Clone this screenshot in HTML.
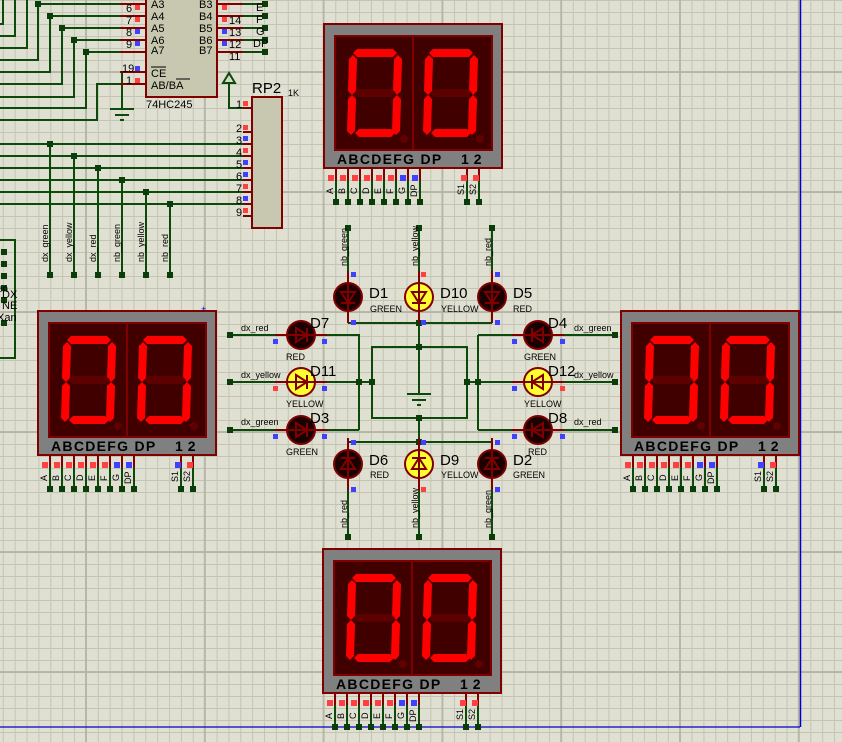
<!DOCTYPE html>
<html><head><meta charset="utf-8"><style>
html,body{margin:0;padding:0;}
body{width:842px;height:742px;overflow:hidden;background-color:#e0e0d2;
background-image:
linear-gradient(to right, rgba(180,180,165,0.9) 2px, transparent 2px),
linear-gradient(to bottom, rgba(180,180,165,0.9) 2px, transparent 2px),
linear-gradient(to right, #c4c4b4 1px, transparent 1px),
linear-gradient(to bottom, #c4c4b4 1px, transparent 1px);
background-size:118.8px 120px,118.8px 120px,11.88px 12px,11.88px 12px;
background-position:85px 0,0 71px,2.8px 0,0 0;}
svg{position:absolute;left:0;top:0;}
text{font-family:"Liberation Sans",sans-serif;}
.w{stroke:#0b4a0b;stroke-width:2;fill:none}
.r{stroke:#800000;stroke-width:2;fill:none}
.dot{fill:#0b3d0b}
.s{font-size:9px;fill:#000}
.m{font-size:11px;fill:#000}
.big{font-size:15px;fill:#000}
.lab{font-family:"Liberation Mono",monospace;font-weight:bold;font-size:14px;fill:#000;letter-spacing:1.3px}
</style></head><body>
<svg width="842" height="742" viewBox="0 0 842 742">
<defs>
<g id="dig">
<polygon fill="#ff0000" points="33,25 69,25 73,29 69,33 33,33 29,29"/>
<polygon fill="#ff0000" points="29,31 33,35 32,67 28,71 24,67 25,35"/>
<polygon fill="#ff0000" points="74,31 78,35 77,67 73,71 69,67 70,35"/>
<polygon fill="#5c0000" points="30,69 34,65 68,65 72,69 68,73 34,73"/>
<polygon fill="#ff0000" points="28,71 32,75 31,107 27,111 23,107 24,75"/>
<polygon fill="#ff0000" points="73,71 77,75 76,107 72,111 68,107 69,75"/>
<polygon fill="#ff0000" points="31,109 35,105 67,105 71,109 67,113 35,113"/>
<circle cx="80" cy="115" r="4" fill="#600000"/>
</g>
<g id="disp">
<rect x="0" y="0" width="178" height="144" fill="#808080" stroke="#800000" stroke-width="2"/>
<rect x="11" y="12" width="157" height="114" fill="#400000" stroke="#800000" stroke-width="2"/>
<line x1="89" y1="12" x2="89" y2="126" stroke="#800000" stroke-width="2"/>
<use href="#dig"/>
<use href="#dig" x="76"/>
<g class="r">
<path d="M12 144v12M24 144v12M36 144v12M48 144v12M60 144v12M72 144v12M84 144v12M96 144v12M143 144v12M155 144v12"/>
</g>
<g class="w">
<path d="M12 156v22M24 156v22M36 156v22M48 156v22M60 156v22M72 156v22M84 156v22M96 156v22M143 156v22M155 156v22"/>
</g>
<g class="dot">
<rect x="9" y="175" width="6" height="6"/><rect x="21" y="175" width="6" height="6"/><rect x="33" y="175" width="6" height="6"/><rect x="45" y="175" width="6" height="6"/><rect x="57" y="175" width="6" height="6"/><rect x="69" y="175" width="6" height="6"/><rect x="81" y="175" width="6" height="6"/><rect x="93" y="175" width="6" height="6"/><rect x="140" y="175" width="6" height="6"/><rect x="152" y="175" width="6" height="6"/>
</g>
<g fill="#ff4040">
<rect x="4" y="151" width="6" height="6"/><rect x="16" y="151" width="6" height="6"/><rect x="28" y="151" width="6" height="6"/><rect x="40" y="151" width="6" height="6"/><rect x="52" y="151" width="6" height="6"/><rect x="64" y="151" width="6" height="6"/>
</g>
<g fill="#4040ff"><rect x="76" y="151" width="6" height="6"/><rect x="88" y="151" width="6" height="6"/></g>
</g>
<g id="led">
<line x1="0" y1="-26" x2="0" y2="26" stroke="#800000" stroke-width="2"/>
<polygon points="-7,-5 7,-5 0,6" fill="none" stroke="#800000" stroke-width="2"/>
<line x1="-7" y1="6" x2="7" y2="6" stroke="#800000" stroke-width="2"/>
</g>
</defs>

<line x1="800.5" y1="0" x2="800.5" y2="727" stroke="#0000cc" stroke-width="1.5"/>
<line x1="0" y1="727" x2="800" y2="727" stroke="#0000cc" stroke-width="1.2"/>

<g class="w">
<path d="M0 24H3V0M0 36H15V0M0 48H27V0M0 60H38V4H120M0 72H50V16H120M0 84H62V28H120M0 97H74V40H120M0 108H86V52H120"/>
<path d="M0 120H97V84H120M120 72H122V108"/>
<path d="M0 144H243M0 156H243M0 168H243M0 180H243M0 192H243M0 204H243"/>
<path d="M50 144V275M74 156V275M98 168V275M122 180V275M146 192V275M170 204V275"/>
<path d="M243 4H265M243 16H265M243 28H265M243 40H265M243 52H265"/>
<path d="M229 83V108H243"/>
<path d="M0 240H15V358H0"/>
</g>
<g class="dot">
<rect x="35" y="1" width="6" height="6"/><rect x="47" y="13" width="6" height="6"/><rect x="59" y="25" width="6" height="6"/><rect x="71" y="37" width="6" height="6"/><rect x="83" y="49" width="6" height="6"/>
<rect x="47" y="141" width="6" height="6"/><rect x="71" y="153" width="6" height="6"/><rect x="95" y="165" width="6" height="6"/><rect x="119" y="177" width="6" height="6"/><rect x="143" y="189" width="6" height="6"/><rect x="167" y="201" width="6" height="6"/>
<rect x="47" y="272" width="6" height="6"/><rect x="71" y="272" width="6" height="6"/><rect x="95" y="272" width="6" height="6"/><rect x="119" y="272" width="6" height="6"/><rect x="143" y="272" width="6" height="6"/><rect x="167" y="272" width="6" height="6"/>
<rect x="262" y="1" width="6" height="6"/><rect x="262" y="13" width="6" height="6"/><rect x="262" y="25" width="6" height="6"/><rect x="262" y="37" width="6" height="6"/><rect x="262" y="49" width="6" height="6"/>
<rect x="1" y="249" width="6" height="6"/><rect x="1" y="261" width="6" height="6"/><rect x="1" y="273" width="6" height="6"/><rect x="1" y="285" width="6" height="6"/><rect x="1" y="297" width="6" height="6"/><rect x="1" y="320" width="6" height="6"/>
</g>
<text x="-3" y="292" font-size="10">en</text>
<text x="2" y="298" font-size="11">DX</text>
<text x="2" y="309" font-size="11">NE</text>
<text x="-3" y="321" font-size="11">Xan</text>
<g class="s">
<text transform="translate(48,262) rotate(-90)">dx_green</text>
<text transform="translate(72,262) rotate(-90)">dx_yellow</text>
<text transform="translate(96,262) rotate(-90)">dx_red</text>
<text transform="translate(120,262) rotate(-90)">nb_green</text>
<text transform="translate(144,262) rotate(-90)">nb_yellow</text>
<text transform="translate(168,262) rotate(-90)">nb_red</text>
</g>

<rect x="146" y="-4" width="71" height="101" fill="#c8c8b0" stroke="#800000" stroke-width="2"/>
<g class="r"><path d="M120 4H146M120 16H146M120 28H146M120 40H146M120 52H146M120 72H146M120 84H146M217 4H243M217 16H243M217 28H243M217 40H243M217 52H243"/></g>
<g class="m">
<text x="151" y="8">A3</text><text x="151" y="20">A4</text><text x="151" y="32">A5</text><text x="151" y="44">A6</text><text x="151" y="54">A7</text>
<text x="151" y="77">CE</text><text x="151" y="89">AB/BA</text>
<text x="199" y="8">B3</text><text x="199" y="20">B4</text><text x="199" y="32">B5</text><text x="199" y="44">B6</text><text x="199" y="54">B7</text>
<text x="126" y="12">6</text><text x="126" y="24">7</text><text x="126" y="36">8</text><text x="126" y="48">9</text><text x="122" y="72">19</text><text x="126" y="84">1</text>
<text x="229" y="24">14</text><text x="229" y="36">13</text><text x="229" y="48">12</text><text x="229" y="60">11</text>
<text x="256" y="11">E</text><text x="256" y="23">F</text><text x="256" y="35">G</text><text x="253" y="47">DP</text>
<text x="146" y="108">74HC245</text>
</g>
<line x1="151" y1="67" x2="166" y2="67" stroke="#000" stroke-width="1"/>
<line x1="176" y1="79" x2="190" y2="79" stroke="#000" stroke-width="1"/>
<g fill="#ff4040"><rect x="135" y="5" width="5" height="5"/><rect x="135" y="17" width="5" height="5"/><rect x="135" y="78" width="5" height="5"/><rect x="222" y="17" width="5" height="5"/><rect x="222" y="5" width="5" height="5"/></g>
<g fill="#4040ff"><rect x="135" y="29" width="5" height="5"/><rect x="135" y="41" width="5" height="5"/><rect x="135" y="66" width="5" height="5"/><rect x="222" y="29" width="5" height="5"/><rect x="222" y="41" width="5" height="5"/></g>
<g stroke="#0b4a0b" stroke-width="2"><path d="M110 109H134M115 115H129M120 120H124"/></g>
<polygon points="229,73 223,83 235,83" fill="none" stroke="#0b4a0b" stroke-width="2"/>

<rect x="252" y="97" width="30" height="131" fill="#c8c8b0" stroke="#800000" stroke-width="2"/>
<g class="r"><path d="M243 108H252M243 132H252M243 144H252M243 156H252M243 168H252M243 180H252M243 192H252M243 204H252M243 216H252"/></g>
<text x="252" y="93" class="big" font-size="16">RP2</text>
<text x="288" y="96" class="s">1K</text>
<g class="m">
<text x="236" y="108">1</text><text x="236" y="132">2</text><text x="236" y="144">3</text><text x="236" y="156">4</text><text x="236" y="168">5</text><text x="236" y="180">6</text><text x="236" y="192">7</text><text x="236" y="204">8</text><text x="236" y="216">9</text>
</g>
<g fill="#ff4040"><rect x="243" y="101" width="5" height="5"/><rect x="243" y="125" width="5" height="5"/><rect x="243" y="148" width="5" height="5"/><rect x="243" y="184" width="5" height="5"/><rect x="243" y="208" width="5" height="5"/></g>
<g fill="#4040ff"><rect x="243" y="136" width="5" height="5"/><rect x="243" y="160" width="5" height="5"/><rect x="243" y="172" width="5" height="5"/><rect x="243" y="196" width="5" height="5"/></g>

<use href="#disp" x="324" y="24"/>
<use href="#disp" x="38" y="311"/>
<use href="#disp" x="621" y="311"/>
<use href="#disp" x="323" y="549"/>
<g class="lab">
<text x="337" y="164">ABCDEFG DP</text><text x="461" y="164" letter-spacing="5">12</text>
<text x="51" y="451">ABCDEFG DP</text><text x="175" y="451" letter-spacing="5">12</text>
<text x="634" y="451">ABCDEFG DP</text><text x="758" y="451" letter-spacing="5">12</text>
<text x="336" y="689">ABCDEFG DP</text><text x="460" y="689" letter-spacing="5">12</text>
</g>
<g fill="#ff4040"><rect x="461" y="175" width="6" height="6"/><rect x="473" y="175" width="6" height="6"/>
<rect x="187" y="462" width="6" height="6"/><rect x="770" y="462" width="6" height="6"/>
<rect x="460" y="700" width="6" height="6"/><rect x="472" y="700" width="6" height="6"/></g>
<g fill="#4040ff"><rect x="175" y="462" width="6" height="6"/><rect x="758" y="462" width="6" height="6"/></g>
<g class="s" font-size="10">
<text transform="translate(333,194) rotate(-90)">A</text><text transform="translate(345,194) rotate(-90)">B</text><text transform="translate(357,194) rotate(-90)">C</text><text transform="translate(369,194) rotate(-90)">D</text><text transform="translate(381,194) rotate(-90)">E</text><text transform="translate(393,194) rotate(-90)">F</text><text transform="translate(405,194) rotate(-90)">G</text><text transform="translate(417,197) rotate(-90)">DP</text><text transform="translate(464,195) rotate(-90)">S1</text><text transform="translate(476,195) rotate(-90)">S2</text>
<text transform="translate(47,481) rotate(-90)">A</text><text transform="translate(59,481) rotate(-90)">B</text><text transform="translate(71,481) rotate(-90)">C</text><text transform="translate(83,481) rotate(-90)">D</text><text transform="translate(95,481) rotate(-90)">E</text><text transform="translate(107,481) rotate(-90)">F</text><text transform="translate(119,481) rotate(-90)">G</text><text transform="translate(131,484) rotate(-90)">DP</text><text transform="translate(178,482) rotate(-90)">S1</text><text transform="translate(190,482) rotate(-90)">S2</text>
<text transform="translate(630,481) rotate(-90)">A</text><text transform="translate(642,481) rotate(-90)">B</text><text transform="translate(654,481) rotate(-90)">C</text><text transform="translate(666,481) rotate(-90)">D</text><text transform="translate(678,481) rotate(-90)">E</text><text transform="translate(690,481) rotate(-90)">F</text><text transform="translate(702,481) rotate(-90)">G</text><text transform="translate(714,484) rotate(-90)">DP</text><text transform="translate(761,482) rotate(-90)">S1</text><text transform="translate(773,482) rotate(-90)">S2</text>
<text transform="translate(332,719) rotate(-90)">A</text><text transform="translate(344,719) rotate(-90)">B</text><text transform="translate(356,719) rotate(-90)">C</text><text transform="translate(368,719) rotate(-90)">D</text><text transform="translate(380,719) rotate(-90)">E</text><text transform="translate(392,719) rotate(-90)">F</text><text transform="translate(404,719) rotate(-90)">G</text><text transform="translate(416,722) rotate(-90)">DP</text><text transform="translate(463,720) rotate(-90)">S1</text><text transform="translate(475,720) rotate(-90)">S2</text>
</g>

<g class="w">
<path d="M348 228V275M419 228V275M492 228V275"/>
<path d="M348 323H492M419 323V394"/>
<rect x="372" y="347" width="95" height="71"/>
<path d="M419 418V442M348 442H492M348 489V537M419 489V537M492 489V537"/>
<path d="M230 335H275M327 335H359V430M230 382H275M327 382H372M230 430H275M327 430H359"/>
<path d="M478 335V430M467 382H512M478 335H512M478 430H512M564 335H615M564 382H615M564 430H615"/>
</g>
<g stroke="#0b4a0b" stroke-width="2"><path d="M407 394H431M412 400H426M417 405H421"/></g>
<g class="dot">
<rect x="345" y="225" width="6" height="6"/><rect x="416" y="225" width="6" height="6"/><rect x="489" y="225" width="6" height="6"/>
<rect x="416" y="320" width="6" height="6"/><rect x="416" y="344" width="6" height="6"/><rect x="416" y="415" width="6" height="6"/><rect x="416" y="439" width="6" height="6"/>
<rect x="356" y="379" width="6" height="6"/><rect x="369" y="379" width="6" height="6"/><rect x="464" y="379" width="6" height="6"/><rect x="475" y="379" width="6" height="6"/>
<rect x="227" y="332" width="6" height="6"/><rect x="227" y="379" width="6" height="6"/><rect x="227" y="427" width="6" height="6"/>
<rect x="612" y="332" width="6" height="6"/><rect x="612" y="379" width="6" height="6"/><rect x="612" y="427" width="6" height="6"/>
<rect x="345" y="534" width="6" height="6"/><rect x="416" y="534" width="6" height="6"/><rect x="489" y="534" width="6" height="6"/>
</g>
<g class="s">
<text transform="translate(347,266) rotate(-90)">nb_green</text>
<text transform="translate(418,266) rotate(-90)">nb_yellow</text>
<text transform="translate(491,266) rotate(-90)">nb_red</text>
<text transform="translate(347,528) rotate(-90)">nb_red</text>
<text transform="translate(418,528) rotate(-90)">nb_yellow</text>
<text transform="translate(491,528) rotate(-90)">nb_green</text>
<text x="241" y="331">dx_red</text><text x="241" y="378">dx_yellow</text><text x="241" y="425">dx_green</text>
<text x="574" y="331">dx_green</text><text x="574" y="378">dx_yellow</text><text x="574" y="425">dx_red</text>
</g>

<g stroke="#800000" stroke-width="2">
<circle cx="348" cy="297" r="14" fill="#1a0000"/><circle cx="419" cy="297" r="14" fill="#ffff30"/><circle cx="492" cy="297" r="14" fill="#1a0000"/>
<circle cx="301" cy="335" r="14" fill="#1a0000"/><circle cx="301" cy="382" r="14" fill="#ffff30"/><circle cx="301" cy="430" r="14" fill="#1a0000"/>
<circle cx="538" cy="335" r="14" fill="#1a0000"/><circle cx="538" cy="382" r="14" fill="#ffff30"/><circle cx="538" cy="430" r="14" fill="#1a0000"/>
<circle cx="348" cy="464" r="14" fill="#1a0000"/><circle cx="419" cy="464" r="14" fill="#ffff30"/><circle cx="492" cy="464" r="14" fill="#1a0000"/>
</g>
<use href="#led" transform="translate(348,297)"/><use href="#led" transform="translate(419,297)"/><use href="#led" transform="translate(492,297)"/>
<use href="#led" transform="translate(301,335) rotate(-90)"/><use href="#led" transform="translate(301,382) rotate(-90)"/><use href="#led" transform="translate(301,430) rotate(-90)"/>
<use href="#led" transform="translate(538,335) rotate(90)"/><use href="#led" transform="translate(538,382) rotate(90)"/><use href="#led" transform="translate(538,430) rotate(90)"/>
<use href="#led" transform="translate(348,464) rotate(180)"/><use href="#led" transform="translate(419,464) rotate(180)"/><use href="#led" transform="translate(492,464) rotate(180)"/>
<g fill="#4040ff">
<rect x="351" y="272" width="5" height="5"/><rect x="351" y="320" width="5" height="5"/><rect x="421" y="320" width="5" height="5"/><rect x="495" y="272" width="5" height="5"/><rect x="495" y="320" width="5" height="5"/>
<rect x="273" y="339" width="5" height="5"/><rect x="322" y="339" width="5" height="5"/><rect x="322" y="386" width="5" height="5"/><rect x="273" y="434" width="5" height="5"/><rect x="322" y="434" width="5" height="5"/>
<rect x="512" y="339" width="5" height="5"/><rect x="560" y="339" width="5" height="5"/><rect x="512" y="386" width="5" height="5"/><rect x="512" y="434" width="5" height="5"/><rect x="560" y="434" width="5" height="5"/>
<rect x="351" y="440" width="5" height="5"/><rect x="351" y="487" width="5" height="5"/><rect x="421" y="440" width="5" height="5"/><rect x="495" y="440" width="5" height="5"/><rect x="495" y="487" width="5" height="5"/>
</g>
<g fill="#ff4040"><rect x="421" y="272" width="5" height="5"/><rect x="273" y="386" width="5" height="5"/><rect x="560" y="386" width="5" height="5"/><rect x="421" y="487" width="5" height="5"/></g>
<g class="big">
<text x="369" y="298">D1</text><text x="440" y="298">D10</text><text x="513" y="298">D5</text>
<text x="310" y="328">D7</text><text x="310" y="376">D11</text><text x="310" y="423">D3</text>
<text x="548" y="328">D4</text><text x="548" y="376">D12</text><text x="548" y="423">D8</text>
<text x="369" y="465">D6</text><text x="440" y="465">D9</text><text x="513" y="465">D2</text>
</g>
<g class="s" font-size="10">
<text x="370" y="312">GREEN</text><text x="441" y="312">YELLOW</text><text x="513" y="312">RED</text>
<text x="286" y="360">RED</text><text x="286" y="407">YELLOW</text><text x="286" y="455">GREEN</text>
<text x="524" y="360">GREEN</text><text x="524" y="407">YELLOW</text><text x="528" y="455">RED</text>
<text x="370" y="478">RED</text><text x="441" y="478">YELLOW</text><text x="513" y="478">GREEN</text>
</g>
<text x="201" y="312" fill="#0000cc" font-size="9">+</text>
</svg>
</body></html>
